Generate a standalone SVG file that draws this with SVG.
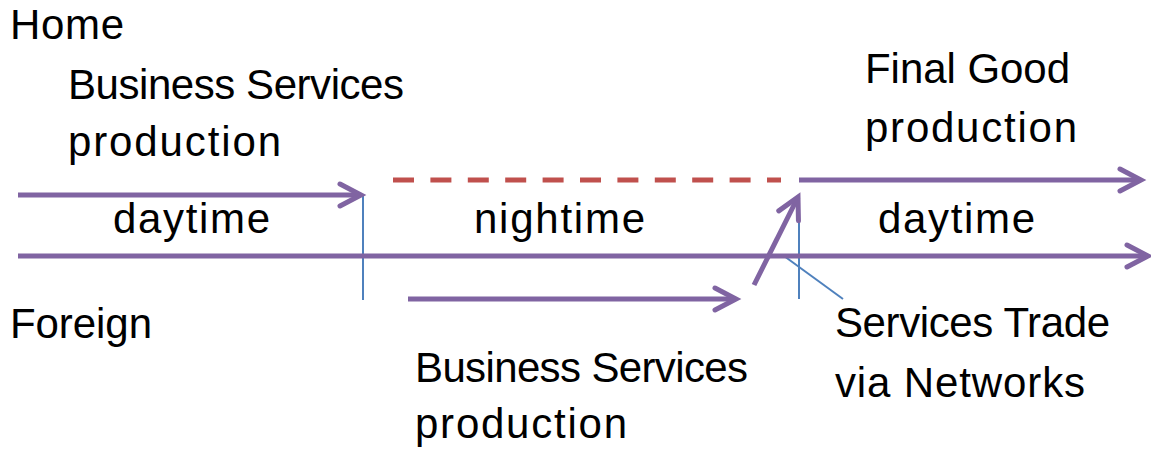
<svg xmlns="http://www.w3.org/2000/svg" width="1151" height="452" viewBox="0 0 1151 452">
<style>
text{font-family:"Liberation Sans",Arial,sans-serif;font-size:42px;fill:#000}
.arr{stroke:#8064a2;stroke-width:5;fill:none;marker-end:url(#ah)}
.blue{stroke:#4f81bd;stroke-width:2;fill:none}
.dash{stroke:#c0504d;stroke-width:5;stroke-dasharray:21 16.4;fill:none}
</style>
<defs>
<marker id="ah" markerUnits="userSpaceOnUse" markerWidth="40" markerHeight="40" viewBox="-30 -20 40 40" refX="0" refY="0" orient="auto" overflow="visible">
<path d="M-21,-11 L0,0 L-21,11" fill="none" stroke="#8064a2" stroke-width="5" stroke-linecap="round"/>
</marker>
</defs>
<rect width="1151" height="452" fill="#fff"/>
<g id="connectors">
<line class="dash" x1="393" y1="180" x2="781" y2="180"/>
<line class="blue" x1="363" y1="195" x2="363" y2="300"/>
<line class="blue" x1="799" y1="195" x2="799" y2="299"/>
<line class="blue" x1="784" y1="256" x2="843" y2="299"/>
<line class="arr" x1="18" y1="195" x2="361" y2="195"/>
<line class="arr" x1="18" y1="256" x2="1148" y2="256"/>
<line class="arr" x1="799" y1="180" x2="1141" y2="180"/>
<line class="arr" x1="408" y1="299" x2="736" y2="299"/>
<line class="arr" x1="754" y1="285" x2="798" y2="197"/>
</g>
<g id="home"><text x="10" y="39" textLength="114">Home</text></g>
<g id="home-bs">
<text x="68" y="99" textLength="336">Business Services</text>
<text x="68" y="156" textLength="213">production</text>
</g>
<g id="daytime1"><text x="113" y="233" textLength="157">daytime</text></g>
<g id="nightime"><text x="474" y="233" textLength="171">nightime</text></g>
<g id="daytime2"><text x="878" y="233" textLength="157">daytime</text></g>
<g id="final-good">
<text x="865" y="83" textLength="205">Final Good</text>
<text x="865" y="142" textLength="212">production</text>
</g>
<g id="foreign"><text x="10" y="338" textLength="142">Foreign</text></g>
<g id="foreign-bs">
<text x="415" y="382" textLength="333">Business Services</text>
<text x="415" y="438" textLength="212">production</text>
</g>
<g id="services-trade">
<text x="835" y="337" textLength="275">Services Trade</text>
<text x="835" y="397" textLength="250">via Networks</text>
</g>
</svg>
